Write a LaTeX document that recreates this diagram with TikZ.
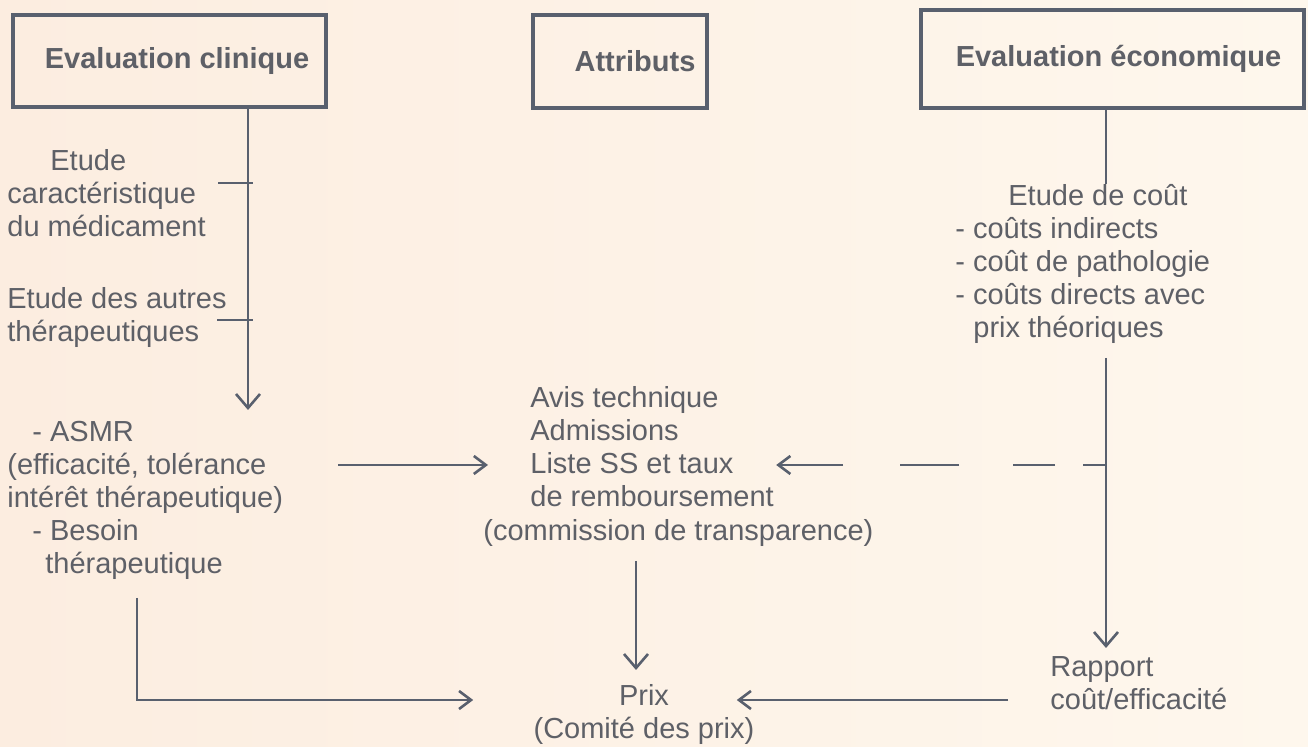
\documentclass[tikz,border=0pt]{standalone}
\usepackage{fontspec}
\setmainfont{Liberation Sans}
\usetikzlibrary{arrows.meta,calc}
\definecolor{inkgray}{HTML}{5E6067}
\definecolor{linegray}{HTML}{59606E}
\definecolor{paperl}{HTML}{FCEDE0}
\definecolor{paperr}{HTML}{FEF7ED}
\tikzset{
  headbox/.style={draw=linegray, line width=1.6pt, text=inkgray,
    font=\bfseries\fontsize{14.5pt}{16.5pt}\selectfont},
  txt/.style={font=\fontsize{14.5pt}{16.5pt}\selectfont, text=inkgray,
    align=left, inner sep=0pt, anchor=north west},
  link/.style={draw=linegray, line width=1.3pt},
  flow/.style={link, -{Straight Barb[length=6pt,width=9pt]}},
  vflow/.style={link, -{Straight Barb[length=7pt,width=12pt]}}
}
\begin{document}
\begin{tikzpicture}[x=0.5pt,y=-0.5pt]
\shade[left color=paperl,right color=paperr] (0,0) rectangle (1308,747);
\useasboundingbox (0,0) rectangle (1308,747);

% headings
\node[headbox, minimum width=156.5pt, minimum height=46pt] (clin) at (169.5,61) {\hspace*{7.5pt}Evaluation clinique};
\node[headbox, minimum width=87pt, minimum height=46.5pt] (attr) at (620,61.5) {\hspace*{15pt}Attributs};
\node[headbox, minimum width=191.5pt, minimum height=49pt] (eco) at (1112.5,59) {\hspace*{6pt}Evaluation économique};

% texts
\node[txt] (caract) at (7,149) {\hspace*{21.5pt}Etude\\caractéristique\\du médicament};
\node[txt] (autres) at (7,287) {Etude des autres\\thérapeutiques};
\node[txt] (asmr) at (7,421) {\hspace*{12.5pt}- ASMR\\(efficacité, tolérance\\intérêt thérapeutique)\\\hspace*{12.5pt}- Besoin\\\hspace*{19pt}thérapeutique};
\node[txt] (avis) at (530,386) {Avis technique\\Admissions\\Liste SS et taux\\de remboursement};
\node[txt] (comm) at (483,519) {(commission de transparence)};
\node[txt, align=center, anchor=north] (prix) at (644,684) {Prix\\(Comité des prix)};
\node[txt] (cout) at (955,184) {\hspace*{26.5pt}Etude de coût\\- coûts indirects\\- coût de pathologie\\- coûts directs avec\\\hspace*{9pt}prix théoriques};
\node[txt] (rapport) at (1050,656) {Rapport\\coût/efficacité};

\coordinate (clinx) at (248,410);
\coordinate (ecox) at (1106,0);
\coordinate (midx) at (636,0);
\coordinate (row) at (0,465);
\coordinate (row2) at (0,700);
\coordinate (elbow) at (137,598);

% left column
\draw[vflow] (clin.south -| clinx) -- (clinx);
\draw[link] (218,183) -- (253,183);
\draw[link] (217,320) -- (253,320);
\draw[flow] ($(asmr.east |- row)+(55,0)$) -- ($(avis.west |- row)+(-42,0)$);
\draw[flow] (elbow) |- ($(prix.west |- row2)+(-60,0)$);

% middle
\draw[vflow] ($(midx |- comm.south)+(0,14)$) -- ($(midx |- prix.north)+(0,-14)$);

% right column
\draw[link] (eco.south -| ecox) -- (ecox |- cout.north);
\draw[vflow] ($(ecox |- cout.south)+(0,14)$) -- ($(ecox |- rapport.north)+(0,-8)$);
\draw[flow, dash pattern=on 11.5pt off 14pt on 21pt off 27pt on 29.5pt off 28.5pt on 40pt] (ecox |- row) -- ($(avis.east |- row)+(2,0)$);
\draw[flow] ($(rapport.west |- row2)+(-42,0)$) -- ($(prix.east |- row2)+(-18,0)$);
\end{tikzpicture}
\end{document}
